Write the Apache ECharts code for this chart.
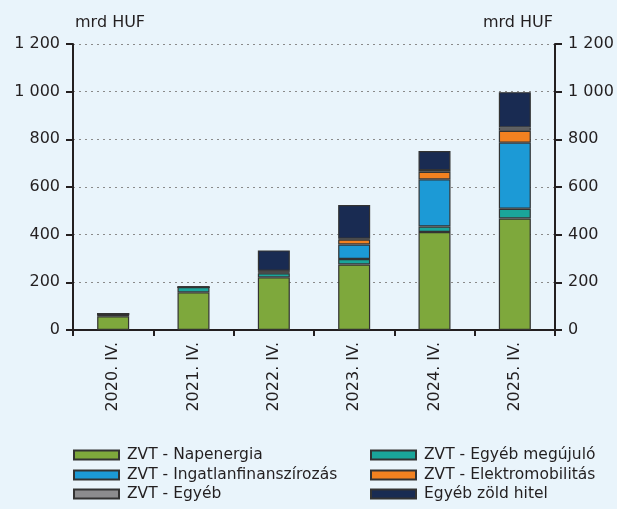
<!DOCTYPE html>
<html><head><meta charset="utf-8">
<script src="https://cdn.jsdelivr.net/npm/echarts@6/dist/echarts.min.js"></script>
<style>html,body{margin:0;padding:0;background:#e9f4fb;}#c{width:617px;height:509px;}</style>
</head><body><div id="c"></div>
<script>
const categories = ['2020. IV.', '2021. IV.', '2022. IV.', '2023. IV.', '2024. IV.', '2025. IV.'];
const napenergia = [58, 158, 221, 275, 411, 468];
const egyebMegujulo = [10, 22, 17, 23, 23, 41];
const ingatlan = [0, 0, 3, 61, 198, 277];
const elektromobilitas = [0, 0, 6, 21, 32, 50];
const zvtEgyeb = [0, 0, 2, 3, 7, 14];
const egyebZold = [1, 2, 85, 141, 80, 148];
const yTicks = [0, 200, 400, 600, 800, 1000, 1200];

const names = ['ZVT - Napenergia', 'ZVT - Egyéb megújuló', 'ZVT - Ingatlanfinanszírozás', 'ZVT - Elektromobilitás', 'ZVT - Egyéb', 'Egyéb zöld hitel'];
const colors = ['#7ea83c', '#1aa59a', '#1c9ad6', '#f28120', '#8c8c8e', '#192b52'];
const datas = [napenergia, egyebMegujulo, ingatlan, elektromobilitas, zvtEgyeb, egyebZold];

const fmt = v => v >= 1000 ? Math.floor(v / 1000) + ' ' + String(v % 1000).padStart(3, '0') : String(v);
const font = 'DejaVu Sans';
const axisCol = '#231f20';
const txtCol = '#231f20';

const legendPos = [
  [73, 455], [370, 455],
  [73, 475], [370, 475],
  [73, 494], [370, 494]
];

const chart = echarts.init(document.getElementById('c'), null, {renderer: 'canvas'});
const yAxisBase = {
  type: 'value', min: yTicks[0], max: yTicks[yTicks.length - 1], interval: 200,
  axisLine: {show: true, lineStyle: {color: axisCol, width: 2}},
  axisTick: {show: true, length: 7, lineStyle: {color: axisCol, width: 2}},
  axisLabel: {formatter: fmt, color: txtCol, fontSize: 16, fontFamily: font, margin: 13}
};
chart.setOption({
  backgroundColor: '#e9f4fb',
  animation: false,
  textStyle: {fontFamily: font},
  grid: {left: 73, right: 62, top: 44, bottom: 179, containLabel: false},
  xAxis: {
    type: 'category', data: categories,
    axisLine: {lineStyle: {color: axisCol, width: 2}},
    axisTick: {show: true, length: 6, lineStyle: {color: axisCol, width: 2}},
    axisLabel: {rotate: 90, color: txtCol, fontSize: 16, fontFamily: font, margin: 12}
  },
  yAxis: [
    Object.assign({}, yAxisBase, {position: 'left',
      splitLine: {show: true, lineStyle: {color: '#8a8a8a', type: [2, 4], width: 1.2}}}),
    Object.assign({}, yAxisBase, {position: 'right', splitLine: {show: false}})
  ],
  legend: names.map((n, i) => ({
    left: legendPos[i][0], top: legendPos[i][1] - 9, padding: 0,
    itemWidth: 45, itemHeight: 9, icon: 'rect',
    textStyle: {fontSize: 15.5, color: txtCol, fontFamily: font, lineHeight: 18, padding: [0, 0, 0, 3]},
    data: [n]
  })),
  graphic: [
    {type: 'text', left: 75, top: 15, style: {text: 'mrd HUF', fontSize: 16, fontFamily: font, fill: txtCol}},
    {type: 'text', right: 64, top: 15, style: {text: 'mrd HUF', fontSize: 16, fontFamily: font, fill: txtCol}}
  ],
  series: names.map((n, i) => ({
    name: n, type: 'bar', stack: 'total', data: datas[i], barWidth: 32,
    itemStyle: {color: colors[i], borderColor: '#333333', borderWidth: 1.2}
  }))
});
</script></body></html>
